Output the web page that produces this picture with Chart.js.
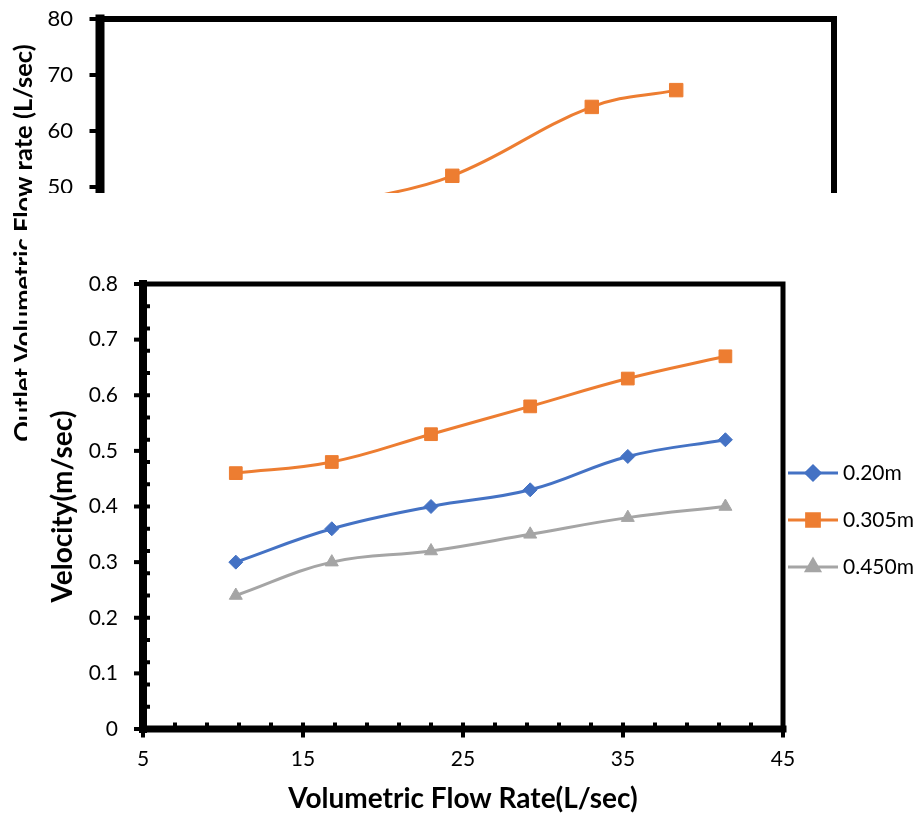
<!DOCTYPE html>
<html>
<head>
<meta charset="utf-8">
<script src="https://cdn.jsdelivr.net/npm/chart.js@4/dist/chart.umd.min.js"></script>
<style>
  html, body { margin: 0; padding: 0; background: #fff; }
  #wrap { position: relative; width: 923px; height: 818px; overflow: hidden; }
  canvas { position: absolute; background: #fff; }
  #outletChart { left: 0; top: 0; }
  #velocityChart { left: 27px; top: 193px; }
</style>
</head>
<body>
<div id="wrap">
  <canvas id="outletChart" width="923" height="560"></canvas>
  <canvas id="velocityChart" width="896" height="625"></canvas>
</div>
<script>
// outlet flow chart (upper panel)
const inletFlow = [11.5, 18, 24.2, 31.8, 36.4];
const outletFlow = [38, 46.5, 52, 64.3, 67.3];
const outletTicks = [0, 10, 20, 30, 40, 50, 60, 70, 80];

// velocity chart (lower panel)
const flowRate = [10.8, 16.8, 23.0, 29.2, 35.3, 41.4];
const vel020 = [0.30, 0.36, 0.40, 0.43, 0.49, 0.52];
const vel0305 = [0.46, 0.48, 0.53, 0.58, 0.63, 0.67];
const vel0450 = [0.24, 0.30, 0.32, 0.35, 0.38, 0.40];
const seriesLabels = ['0.20m', '0.305m', '0.450m'];
const velocityTicks = [0, 0.1, 0.2, 0.3, 0.4, 0.5, 0.6, 0.7, 0.8];
const flowTicks = [5, 15, 25, 35, 45];

const BLUE = '#4472C4', ORANGE = '#ED7D31', GRAY = '#A5A5A5';
const FONT = 'Lato, "Open Sans", sans-serif';

const toPoints = (xs, ys) => xs.map((x, i) => ({ x: x, y: ys[i] }));

// thick excel-style frame with outward major ticks and inward minor ticks
const framePlugin = {
    id: 'frame',
    afterDraw(chart, args, opts) {
        const { ctx, chartArea: a, scales: { x, y } } = chart;
        ctx.save();
        ctx.strokeStyle = '#000';
        ctx.fillStyle = '#000';
        ctx.lineCap = 'square';

        ctx.lineWidth = opts.edge;
        ctx.beginPath();
        ctx.moveTo(a.left, a.top);
        ctx.lineTo(a.right, a.top);
        ctx.lineTo(a.right, a.bottom);
        ctx.stroke();

        ctx.lineWidth = opts.axisX;
        ctx.beginPath();
        ctx.moveTo(a.left, a.bottom);
        ctx.lineTo(a.right, a.bottom);
        ctx.stroke();

        ctx.lineWidth = opts.axisY;
        ctx.beginPath();
        ctx.moveTo(a.left, a.top);
        ctx.lineTo(a.left, a.bottom);
        ctx.stroke();

        const hy = opts.axisY / 2, hx = opts.axisX / 2;
        y.ticks.forEach(t => {
            const py = y.getPixelForValue(t.value);
            ctx.fillRect(a.left - hy - opts.major, py - 2, opts.major + hy, 4);
        });
        x.ticks.forEach(t => {
            const px = x.getPixelForValue(t.value);
            ctx.fillRect(px - 2, a.bottom, 4, hx + opts.major);
        });

        if (opts.minorY) {
            for (let i = 1; y.min + i * opts.minorY <= y.max + 1e-9; i++) {
                const py = y.getPixelForValue(y.min + i * opts.minorY);
                ctx.fillRect(a.left, py - 2, hy + opts.minor, 4);
            }
        }
        if (opts.minorX) {
            for (let i = 1; x.min + i * opts.minorX <= x.max + 1e-9; i++) {
                const px = x.getPixelForValue(x.min + i * opts.minorX);
                ctx.fillRect(px - 2, a.bottom - hx - opts.minor, 4, hx + opts.minor);
            }
        }
        ctx.restore();
    }
};

// legend at the right: line sample with marker, then label
const sideLegend = {
    id: 'sideLegend',
    afterDraw(chart, args, opts) {
        if (!opts.display) return;
        const { ctx, chartArea } = chart;
        ctx.save();
        chart.data.datasets.forEach((ds, i) => {
            const ly = opts.top + i * opts.gap;
            const x0 = chartArea.right + opts.offset;
            ctx.strokeStyle = ds.borderColor;
            ctx.fillStyle = ds.backgroundColor;
            ctx.lineWidth = ds.borderWidth;
            ctx.beginPath();
            ctx.moveTo(x0, ly);
            ctx.lineTo(x0 + opts.lineLength, ly);
            ctx.stroke();
            Chart.helpers.drawPoint(ctx, {
                pointStyle: ds.pointStyle,
                radius: ds.pointRadius,
                borderWidth: 1,
                rotation: 0
            }, x0 + opts.lineLength / 2, ly);
            ctx.fillStyle = '#000';
            ctx.font = '21px ' + FONT;
            ctx.textBaseline = 'middle';
            ctx.textAlign = 'left';
            ctx.fillText(ds.label, x0 + opts.lineLength + 5, ly);
        });
        ctx.restore();
    }
};

function series(label, xs, ys, color, style, radius) {
    return {
        label: label,
        data: toPoints(xs, ys),
        borderColor: color,
        backgroundColor: color,
        borderWidth: 3,
        pointStyle: style,
        pointRadius: radius,
        pointBorderWidth: 1,
        tension: 0.4
    };
}

function fixedTicks(list) {
    return scale => { scale.ticks = list.map(v => ({ value: v })); };
}

// fixed box size; drop the label overhang so layout padding sets the plot edges
function boxSize(w, h) {
    return scale => {
        if (w) scale.width = w;
        if (h) scale.height = h;
        scale.paddingTop = 0;
        scale.paddingBottom = 0;
        scale.paddingLeft = 0;
        scale.paddingRight = 0;
    };
}

new Chart(document.getElementById('outletChart'), {
    type: 'line',
    data: {
        datasets: [series('0.305m', inletFlow, outletFlow, ORANGE, 'rect', 9.5)]
    },
    options: {
        responsive: false,
        animation: false,
        layout: { padding: { left: 0, top: 19, right: 89, bottom: 0 } },
        plugins: {
            legend: { display: false },
            tooltip: { enabled: false },
            frame: { edge: 6, axisX: 8, axisY: 9, major: 6, minor: 0 },
            sideLegend: { display: false }
        },
        scales: {
            x: {
                type: 'linear', min: 5, max: 45,
                afterBuildTicks: fixedTicks(flowTicks),
                afterFit: boxSize(0, 93),
                grid: { display: false, drawTicks: false },
                border: { display: false },
                ticks: { color: '#000', font: { family: FONT, size: 22 }, padding: 18 }
            },
            y: {
                type: 'linear', min: 0, max: 80,
                afterBuildTicks: fixedTicks(outletTicks),
                afterFit: boxSize(100, 0),
                grid: { display: false, drawTicks: false },
                border: { display: false },
                ticks: { color: '#000', font: { family: FONT, size: 22 }, padding: 27 },
                title: {
                    display: true,
                    text: 'Outlet Volumetric Flow rate (L/sec)',
                    color: '#000',
                    font: { family: FONT, size: 25.5, weight: 'bold' },
                    padding: { top: 8, bottom: 0 }
                }
            }
        }
    },
    plugins: [framePlugin, sideLegend]
});

new Chart(document.getElementById('velocityChart'), {
    type: 'line',
    data: {
        datasets: [
            series(seriesLabels[0], flowRate, vel020, BLUE, 'rectRot', 7),
            series(seriesLabels[1], flowRate, vel0305, ORANGE, 'rect', 9),
            series(seriesLabels[2], flowRate, vel0450, GRAY, 'triangle', 7.5)
        ]
    },
    options: {
        responsive: false,
        animation: false,
        layout: { padding: { left: 0, top: 91, right: 140, bottom: 0 } },
        plugins: {
            legend: { display: false },
            tooltip: { enabled: false },
            frame: { edge: 5, axisX: 7, axisY: 8, major: 5, minor: 3, minorX: 2, minorY: 0.04 },
            sideLegend: { display: true, top: 280, gap: 47, offset: 5, lineLength: 50 }
        },
        scales: {
            x: {
                type: 'linear', min: 5, max: 45,
                afterBuildTicks: fixedTicks(flowTicks),
                afterFit: boxSize(0, 89),
                grid: { display: false, drawTicks: false },
                border: { display: false },
                ticks: { color: '#000', font: { family: FONT, size: 21 }, padding: 18 },
                title: {
                    display: true,
                    text: 'Volumetric Flow Rate(L/sec)',
                    color: '#000',
                    font: { family: FONT, size: 28, weight: 'bold' },
                    padding: { top: 0, bottom: 2 }
                }
            },
            y: {
                type: 'linear', min: 0, max: 0.8,
                afterBuildTicks: fixedTicks(velocityTicks),
                afterFit: boxSize(116, 0),
                grid: { display: false, drawTicks: false },
                border: { display: false },
                ticks: { color: '#000', font: { family: FONT, size: 21 }, padding: 25, callback: v => String(v) },
                title: {
                    display: true,
                    text: 'Velocity(m/sec)',
                    color: '#000',
                    font: { family: FONT, size: 28, weight: 'bold' },
                    padding: { top: 19, bottom: 0 }
                }
            }
        }
    },
    plugins: [framePlugin, sideLegend]
});
</script>
</body>
</html>
